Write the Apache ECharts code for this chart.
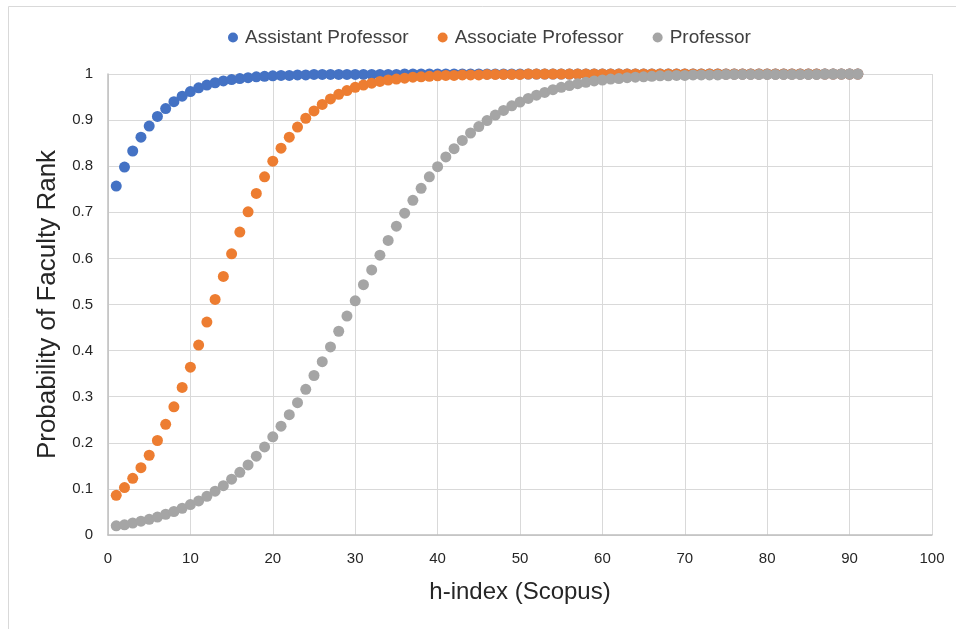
<!DOCTYPE html>
<html>
<head>
<meta charset="utf-8">
<title>Probability of Faculty Rank vs h-index</title>
<script src="https://cdn.jsdelivr.net/npm/echarts@6/dist/echarts.min.js"></script>
<style>
  html, body { margin: 0; padding: 0; background: #fff; }
  #chart { width: 956px; height: 629px; }
</style>
</head>
<body>
<div id="chart"></div>
<script>
// h-index values (x)
var hIndex = [1,2,3,4,5,6,7,8,9,10,11,12,13,14,15,16,17,18,19,20,
  21,22,23,24,25,26,27,28,29,30,31,32,33,34,35,36,37,38,39,40,
  41,42,43,44,45,46,47,48,49,50,51,52,53,54,55,56,57,58,59,60,
  61,62,63,64,65,66,67,68,69,70,71,72,73,74,75,76,77,78,79,80,
  81,82,83,84,85,86,87,88,89,90,91];

var assistant = [0.757,0.798,0.833,0.863,0.887,0.908,0.925,0.940,0.952,0.962,
  0.970,0.976,0.981,0.985,0.988,0.990,0.992,0.994,0.995,0.996,
  0.997,0.997,0.998,0.998,0.999,0.999,0.999,0.999,0.999,0.999,
  0.999,0.999,0.999,0.999,0.999,1,1,1,1,1,
  1,1,1,1,1,1,1,1,1,1,1,1,1,1,1,1,1,1,1,1,
  1,1,1,1,1,1,1,1,1,1,1,1,1,1,1,1,1,1,1,1,
  1,1,1,1,1,1,1,1,1,1,1];

var associate = [0.086,0.103,0.123,0.146,0.173,0.205,0.240,0.278,0.320,0.364,
  0.412,0.462,0.511,0.561,0.610,0.657,0.701,0.741,0.777,0.811,
  0.839,0.863,0.885,0.904,0.920,0.934,0.946,0.956,0.964,0.971,
  0.976,0.980,0.984,0.987,0.989,0.991,0.993,0.994,0.995,0.996,
  0.997,0.997,0.998,0.998,0.998,0.999,0.999,0.999,0.999,0.999,
  1,1,1,1,1,1,1,1,1,1,1,1,1,1,1,1,1,1,1,1,
  1,1,1,1,1,1,1,1,1,1,1,1,1,1,1,1,1,1,1,1,1];

var professor = [0.020,0.022,0.026,0.030,0.034,0.039,0.045,0.051,0.058,0.066,
  0.074,0.084,0.095,0.107,0.121,0.136,0.152,0.171,0.191,0.213,
  0.236,0.261,0.287,0.316,0.346,0.376,0.408,0.442,0.475,0.508,
  0.543,0.575,0.607,0.639,0.670,0.698,0.726,0.752,0.777,0.799,
  0.820,0.838,0.856,0.872,0.886,0.899,0.911,0.921,0.931,0.939,
  0.947,0.954,0.960,0.966,0.971,0.975,0.979,0.982,0.985,0.987,
  0.989,0.990,0.992,0.993,0.994,0.995,0.996,0.996,0.997,0.997,
  0.998,0.998,0.998,0.998,0.999,0.999,0.999,0.999,0.999,0.999,
  0.999,0.999,0.999,0.999,0.999,0.999,1,1,1,1,1];

var seriesNames = ['Assistant Professor', 'Associate Professor', 'Professor'];
var seriesColors = ['#4472C4', '#ED7D31', '#A5A5A5'];

function pairs(ys) {
  var out = [];
  for (var i = 0; i < hIndex.length; i++) out.push([hIndex[i], ys[i]]);
  return out;
}

var FONT = '"Liberation Sans", Arial, sans-serif';
var myChart = echarts.init(document.getElementById('chart'), null, { renderer: 'canvas' });
var option = {
  animation: false,
  backgroundColor: '#fff',
  textStyle: { fontFamily: FONT },
  graphic: [{
    type: 'rect',
    left: 6, top: 4,
    shape: { width: 960, height: 640 },
    style: { fill: 'none', stroke: '#d9d9d9', lineWidth: 1 },
    silent: true
  }],
  legend: {
    top: 23,
    left: 223,
    icon: 'circle',
    itemWidth: 10,
    itemHeight: 10,
    itemGap: 29,
    textStyle: { fontSize: 19, color: '#404040', fontFamily: FONT, padding: [0, 0, 0, 2] },
    data: seriesNames
  },
  grid: { left: 108, right: 24, top: 74, bottom: 94 },
  xAxis: {
    type: 'value',
    min: 0, max: 100, interval: 10,
    name: 'h-index (Scopus)',
    nameLocation: 'middle',
    nameGap: 45,
    nameTextStyle: { fontSize: 24, color: '#262626', fontFamily: FONT },
    axisLine: { show: true, lineStyle: { color: '#bfbfbf', width: 1.5 } },
    axisTick: { show: false },
    axisLabel: { fontSize: 15, color: '#262626', margin: 16 },
    splitLine: { show: true, lineStyle: { color: '#d9d9d9', width: 1 } }
  },
  yAxis: {
    type: 'value',
    min: 0, max: 1, interval: 0.1,
    name: 'Probability of Faculty Rank',
    nameLocation: 'middle',
    nameGap: 47,
    nameTextStyle: { fontSize: 26, color: '#262626', fontFamily: FONT },
    axisLine: { show: true, lineStyle: { color: '#bfbfbf', width: 1.5 } },
    axisTick: { show: false },
    axisLabel: {
      fontSize: 15, color: '#262626', margin: 15,
      formatter: function (v) { return String(Math.round(v * 10) / 10); }
    },
    splitLine: { show: true, lineStyle: { color: '#d9d9d9', width: 1 } }
  },
  series: seriesNames.map(function (name, i) {
    return {
      name: name,
      type: 'scatter',
      symbol: 'circle',
      symbolSize: 11,
      itemStyle: { color: seriesColors[i], opacity: 1 },
      data: pairs([assistant, associate, professor][i])
    };
  })
};
myChart.setOption(option);
</script>
</body>
</html>
